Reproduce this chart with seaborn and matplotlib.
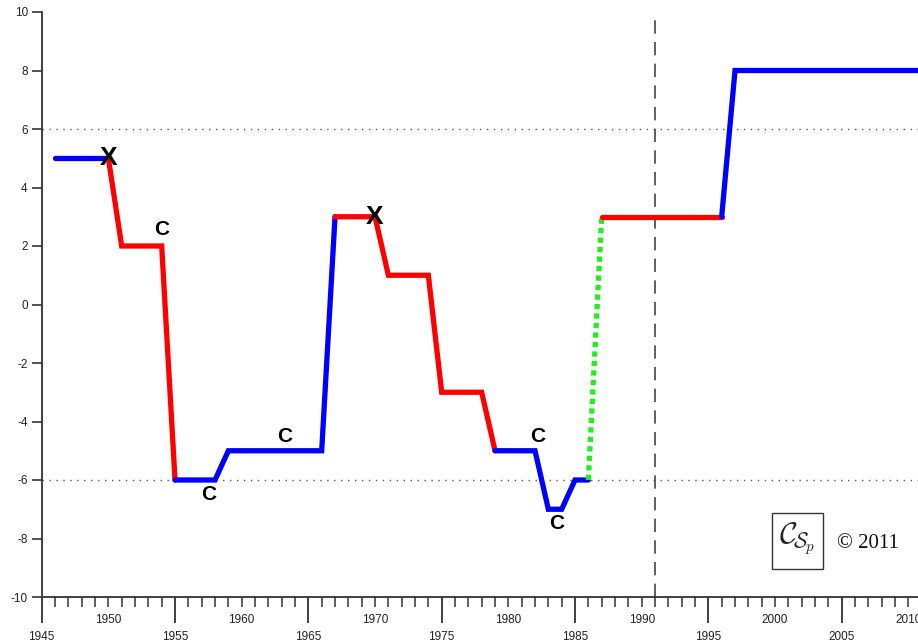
import matplotlib
matplotlib.use("Agg")
import matplotlib.pyplot as plt
import seaborn as sns
import pandas as pd
from matplotlib.ticker import FixedLocator, FuncFormatter
from matplotlib.patches import Rectangle

# ---------------- data ----------------
seg_names = ["blue1", "red1", "blue2", "red2", "blue3", "green", "red3", "blue4"]
seg_colors = ["#0000FF", "#FF0000", "#0000FF", "#FF0000", "#0000FF", "#22EE22", "#FF0000", "#0000FF"]
blue1_years = [1946, 1950]
blue1_vals = [5, 5]
red1_years = [1950, 1951, 1954, 1955]
red1_vals = [5, 2, 2, -6]
blue2_years = [1955, 1958, 1959, 1966, 1967]
blue2_vals = [-6, -6, -5, -5, 3]
red2_years = [1967, 1970, 1971, 1974, 1975, 1978, 1979]
red2_vals = [3, 3, 1, 1, -3, -3, -5]
blue3_years = [1979, 1982, 1983, 1984, 1985, 1986]
blue3_vals = [-5, -5, -7, -7, -6, -6]
green_years = [1986, 1987]
green_vals = [-6, 3]
red3_years = [1987, 1996]
red3_vals = [3, 3]
blue4_years = [1996, 1997, 2011]
blue4_vals = [3, 8, 8]

x_marks = [(1950, 5), (1970, 3)]
c_marks = [(1954, 2.55), (1957.5, -6.5), (1963.2, -4.5), (1982.2, -4.5), (1983.6, -7.5)]
ref_hlines = [6, -6]
ref_vline = 1991
yticks = list(range(-10, 11, 2))
major_years = list(range(1945, 2010, 10))
minor_years = list(range(1945, 2011))

segments = {
    "blue1": (blue1_years, blue1_vals), "red1": (red1_years, red1_vals),
    "blue2": (blue2_years, blue2_vals), "red2": (red2_years, red2_vals),
    "blue3": (blue3_years, blue3_vals), "green": (green_years, green_vals),
    "red3": (red3_years, red3_vals), "blue4": (blue4_years, blue4_vals),
}

# ---------------- style ----------------
sns.set_style("ticks")
plt.rcParams["font.family"] = ["Liberation Sans", "DejaVu Sans"]
plt.rcParams["axes.unicode_minus"] = False
plt.rcParams["mathtext.fontset"] = "cm"

W, H = 918, 643
fig = plt.figure(figsize=(W / 100, H / 100), dpi=100)
ax = fig.add_axes([41.7 / W, 46 / H, (W - 41.7) / W, 585 / H])

def fx(px):
    return px / W

def fy(py):
    return 1 - py / H

# reference lines
for yv in ref_hlines:
    ax.axhline(yv, color="#555555", lw=1.0, ls=(0, (1, 4)), zorder=1)
ax.axvline(ref_vline, color="#444444", lw=1.2, ls=(0, (8, 5)), zorder=1)

# series
for name, col in zip(seg_names, seg_colors):
    yrs, vals = segments[name]
    df = pd.DataFrame({"year": yrs, "value": vals})
    sns.lineplot(data=df, x="year", y="value", ax=ax, color=col,
                 linewidth=3.8, estimator=None, sort=False, zorder=3,
                 solid_joinstyle="miter")
    if name == "green":
        ln = ax.get_lines()[-1]
        ln.set_linestyle((0, (1.0, 0.8)))
        ln.set_dash_capstyle("butt")

for (xx, yy) in x_marks:
    ax.text(xx, yy, "X", ha="center", va="center", fontsize=19,
            fontweight="bold", color="black", zorder=5)
for (xx, yy) in c_marks:
    ax.text(xx, yy, "C", ha="center", va="center", fontsize=15,
            fontweight="bold", color="black", zorder=5)

# axes
ax.set_xlim(1945, 1945 + (W - 41.7) / 13.333)
ax.set_ylim(-10, 10)
ax.set_xlabel("")
ax.set_ylabel("")
sns.despine(ax=ax, top=True, right=True)
for s in ["left", "bottom"]:
    ax.spines[s].set_color("#333333")
    ax.spines[s].set_linewidth(1.3)

ax.xaxis.set_major_locator(FixedLocator(major_years))
ax.xaxis.set_minor_locator(FixedLocator(minor_years))
ax.xaxis.set_major_formatter(FuncFormatter(lambda v, p: f"{int(round(v))}"))
ax.xaxis.set_minor_formatter(FuncFormatter(lambda v, p: f"{int(round(v))}" if int(round(v)) % 10 == 0 else ""))
ax.tick_params(axis="x", which="major", direction="out", length=19, width=1.3,
               color="#333333", labelsize=8.5, labelcolor="#222222", pad=5.5)
ax.tick_params(axis="x", which="minor", direction="out", length=7, width=1.1,
               color="#333333", labelsize=8.5, labelcolor="#222222", pad=5.5)
ax.set_yticks(yticks)
ax.set_yticklabels([str(v) for v in yticks])
ax.tick_params(axis="y", which="major", direction="out", length=7, width=1.2,
               color="#333333", labelsize=8.5, labelcolor="#222222", pad=3)

# logo box and copyright
fig.patches.append(Rectangle((fx(772), fy(569)), (823 - 772) / W, (569 - 513) / H,
                             transform=fig.transFigure, fill=False,
                             edgecolor="#333333", lw=1.0))
fig.text(fx(797), fy(539), r"$\mathcal{C}_{\!\mathcal{S}_{\!p}}$", fontsize=22,
         ha="center", va="center")
fig.text(fx(837), fy(543), "\u00a9 2011", fontsize=15, ha="left", va="center",
         family=["Liberation Serif", "DejaVu Serif"], color="#111111")

fig.savefig("out.png", dpi=100)
